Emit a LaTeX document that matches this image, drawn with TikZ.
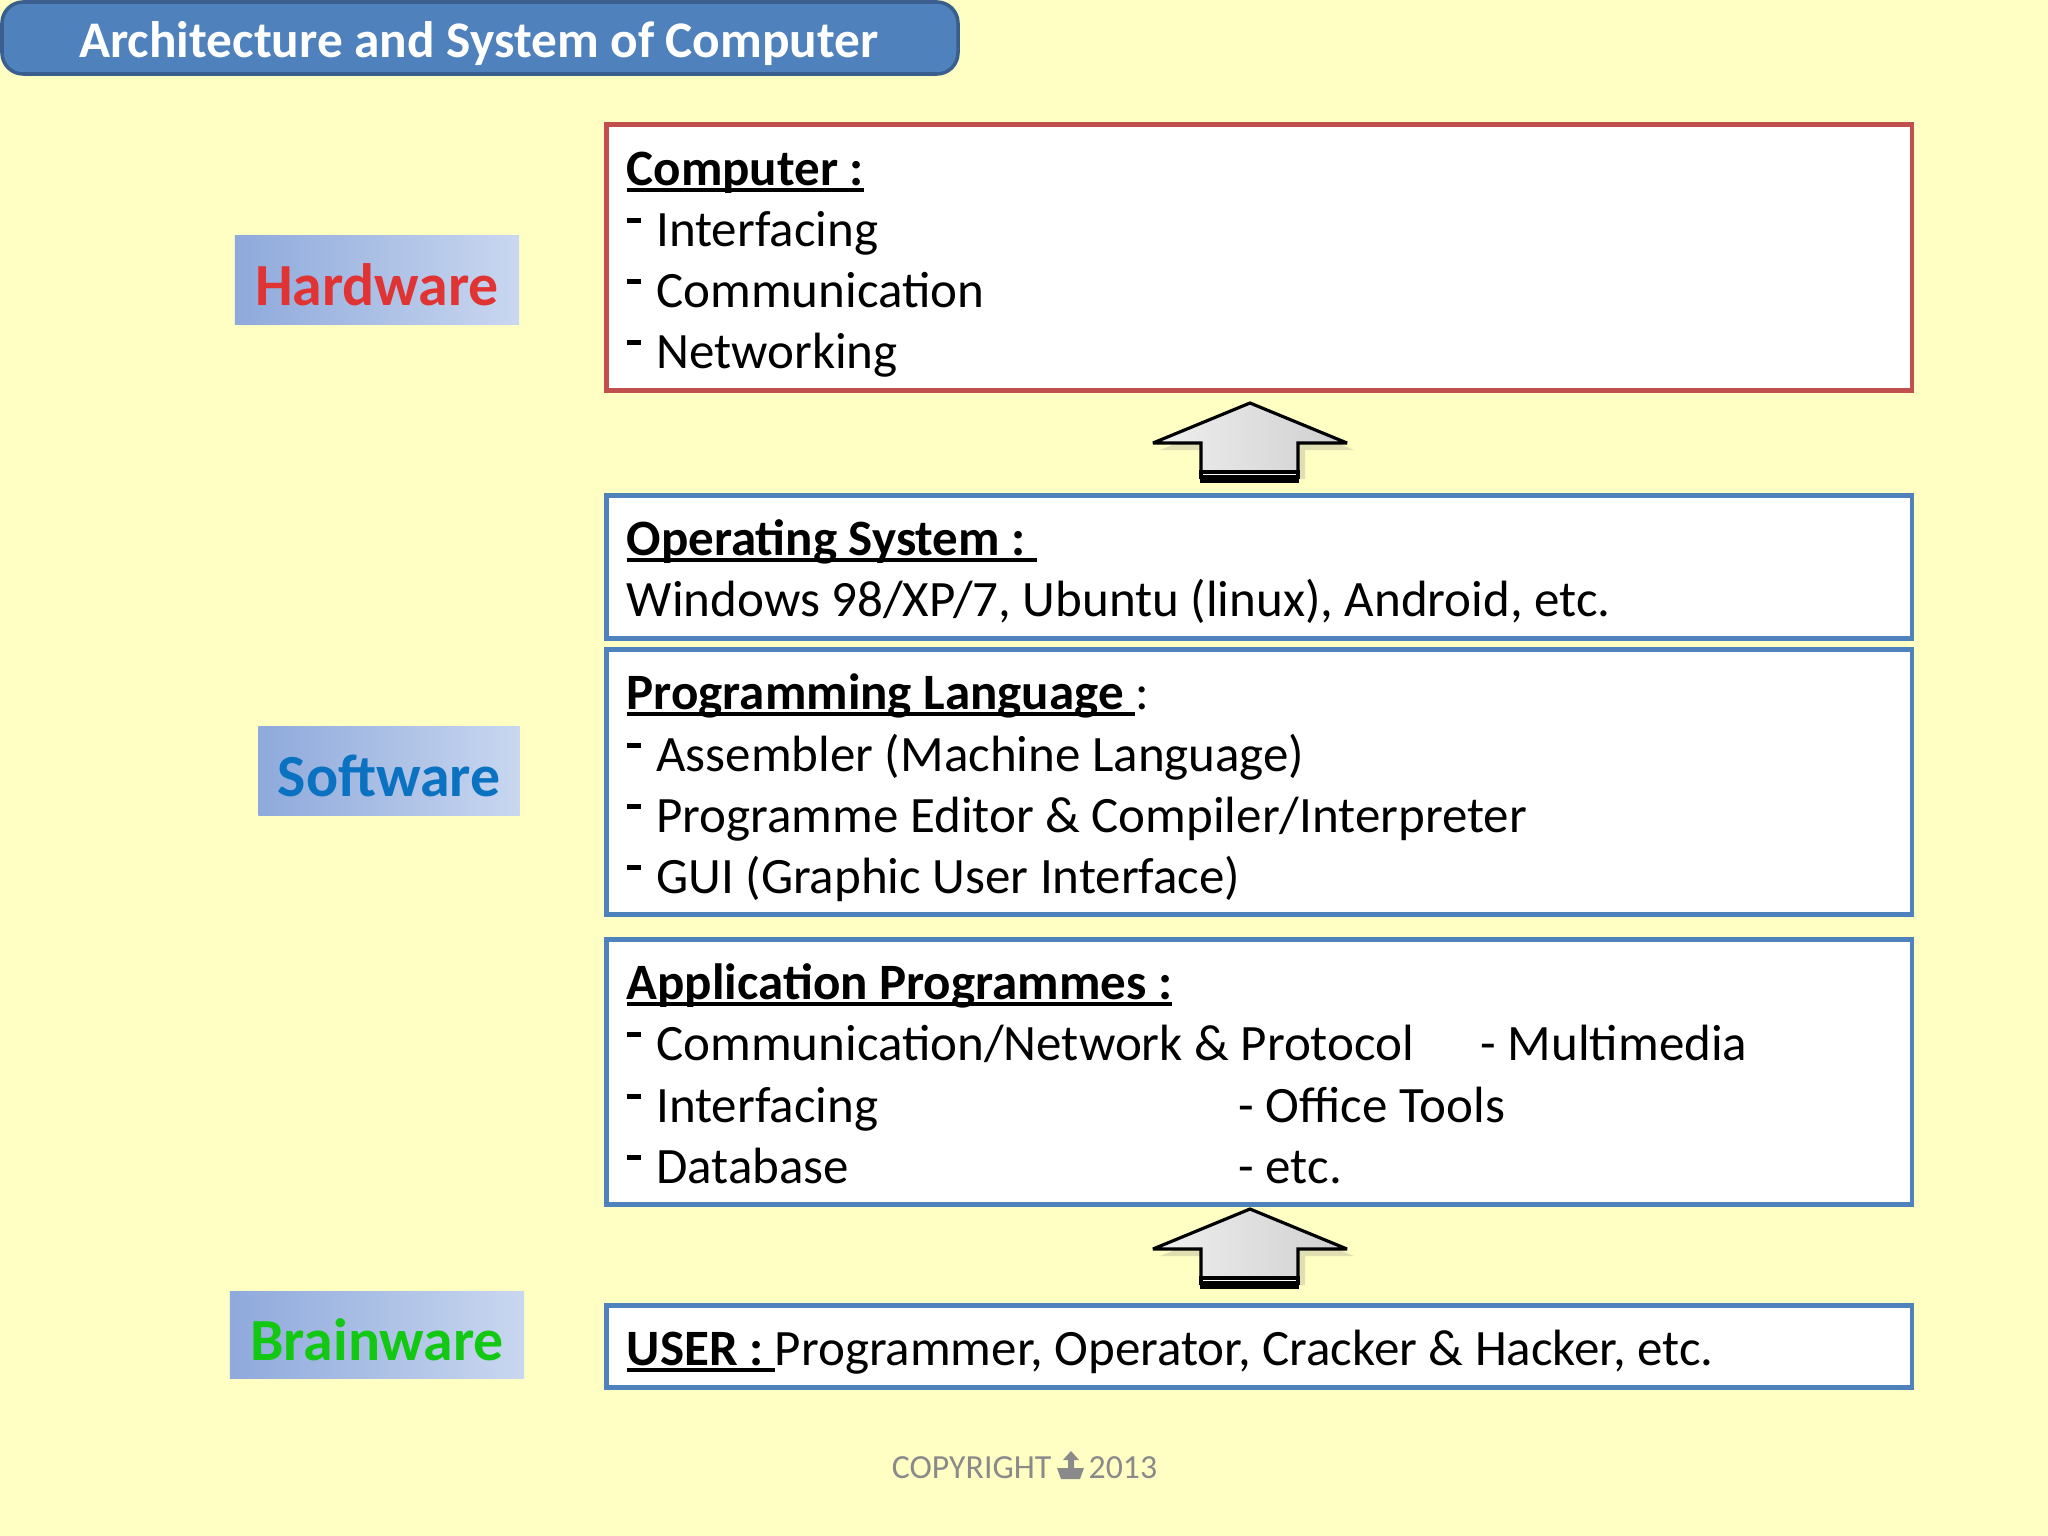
\documentclass[tikz,border=0pt]{standalone}
\usepackage{fontspec}
\setmainfont{Carlito}
\usepackage{xcolor}
\usetikzlibrary{positioning,shadows,calc}

\definecolor{bgyellow}{HTML}{FFFFC4}
\definecolor{titleblue}{HTML}{4F81BD}
\definecolor{titleedge}{HTML}{3A5F8F}
\definecolor{hwred}{HTML}{C0504D}
\definecolor{swblue}{HTML}{4F81BD}
\definecolor{labred}{HTML}{E03434}
\definecolor{labblue}{HTML}{0B72C2}
\definecolor{labgreen}{HTML}{12C812}
\definecolor{lableft}{HTML}{8EA9DB}
\definecolor{labright}{HTML}{C9D7F0}
\definecolor{copygray}{HTML}{8A8A8A}

% raised dash used in front of the list items
\newcommand{\itemdash}{\rule[0.45em]{0.28em}{0.09em}\hspace{0.3em}}
% underline sitting close to the baseline
\newcommand{\lowul}[1]{\setbox0\hbox{#1}\rlap{\rule[-0.13em]{\wd0}{0.065em}}\box0}

\tikzset{
  layerbox/.style={draw, fill=white, line width=1.3pt, anchor=north west},
  sidelabel/.style={left color=lableft, right color=labright, inner sep=0pt,
    text height=0.5cm, text depth=0pt, font=\fontsize{17}{20}\selectfont\bfseries},
  itemline/.style={anchor=base west, inner sep=0pt, font=\fontsize{14.5}{17}\selectfont},
  headline/.style={itemline, font=\fontsize{14.5}{17}\selectfont\bfseries},
  liftarrow/.style={draw=black, line width=0.9pt, miter limit=3, left color=gray!12, right color=gray!38,
    drop shadow={opacity=0.25, shadow xshift=2pt, shadow yshift=-2pt}},
}

\begin{document}
\begin{tikzpicture}[x=0.01cm, y=-0.01cm]
    % Page
    \fill[bgyellow] (0,0) rectangle (2048,1536);

    % Title bar
    \draw[fill=titleblue, draw=titleedge, line width=1pt, rounded corners=6pt] (2,2) rectangle (958,74);
    \node[text=white, font=\fontsize{14.6}{17}\selectfont\bfseries] (title) at (479,44) {Architecture and System of Computer};

    % Side labels
    \node[sidelabel, minimum width=2.84cm, minimum height=0.88cm, text=labred] (hardware) at (377,280) {Hardware};
    \node[sidelabel, minimum width=2.61cm, minimum height=0.88cm, text=labblue] (software) at (389,771) {Software};
    \node[sidelabel, minimum width=2.94cm, minimum height=0.87cm, text=labgreen] (brainware) at (377,1335) {Brainware};

    % Layer boxes
    \node[layerbox, draw=hwred, minimum width=13.05cm, minimum height=2.66cm] (computer) at (604,122) {};
    \node[layerbox, draw=swblue, minimum width=13.05cm, minimum height=1.43cm] (os) at (604,493) {};
    \node[layerbox, draw=swblue, minimum width=13.05cm, minimum height=2.65cm] (proglang) at (604,647) {};
    \node[layerbox, draw=swblue, minimum width=13.05cm, minimum height=2.65cm] (apps) at (604,937) {};
    \node[layerbox, draw=swblue, minimum width=13.05cm, minimum height=0.82cm] (user) at (604,1303) {};

    % Computer
    \node[headline] (comphead) at (626,185) {\lowul{Computer :}};
    \node[itemline] (comp1) at (626,246) {\itemdash Interfacing};
    \node[itemline] (comp2) at (626,307) {\itemdash Communication};
    \node[itemline] (comp3) at (626,368) {\itemdash Networking};

    % Operating system
    \node[headline] (oshead) at (626,555) {\lowul{Operating System :\ }};
    \node[itemline] (os1) at (626,616) {Windows 98/XP/7, Ubuntu (linux), Android, etc.};

    % Programming language
    \node[headline] (plhead) at (626,709) {\lowul{Programming Language\ }\mdseries:};
    \node[itemline] (pl1) at (626,771) {\itemdash Assembler (Machine Language)};
    \node[itemline] (pl2) at (626,832) {\itemdash Programme Editor \& Compiler/Interpreter};
    \node[itemline] (pl3) at (626,893) {\itemdash GUI (Graphic User Interface)};

    % Application programmes
    \node[headline] (apphead) at (626,999) {\lowul{Application Programmes :}};
    \node[itemline] (app1) at (626,1060) {\itemdash Communication/Network \& Protocol};
    \node[itemline] (app2) at (626,1122) {\itemdash Interfacing};
    \node[itemline] (app3) at (626,1183) {\itemdash Database};
    \node[itemline] (app4) at (1480,1060) {- Multimedia};
    \node[itemline] (app5) at (1238,1122) {- Office Tools};
    \node[itemline] (app6) at (1238,1183) {- etc.};

    % User
    \node[itemline] (userline) at (626,1365) {\bfseries\lowul{USER :\ }\mdseries Programmer, Operator, Cracker \& Hacker, etc.};

    % Block arrows between the layers
    \foreach \ty in {403,1209} {
      \draw[liftarrow] (1250,\ty) -- (1347,\ty+40) -- (1298,\ty+40) -- (1298,\ty+69)
        -- (1201,\ty+69) -- (1201,\ty+40) -- (1153,\ty+40) -- cycle;
      \draw[line width=0.9pt, fill=white] (1201,\ty+69) rectangle (1298,\ty+74);
      \fill[black] (1200,\ty+75) rectangle (1299,\ty+80);
    }

    % Footer
    \node[anchor=base east, inner sep=0pt, text=copygray, font=\fontsize{9.6}{12}\selectfont] (copyword) at (1052,1478) {COPYRIGHT};
    \node[anchor=base west, inner sep=0pt, text=copygray, font=\fontsize{9.6}{12}\selectfont] (copyyear) at (1088,1478) {2013};
    \fill[copygray] (1057,1468) -- (1084,1468) -- (1080,1479) -- (1061,1479) -- cycle;
    \fill[copygray] (1071,1451) -- (1079,1460) -- (1074,1460) -- (1074,1469) -- (1068,1469) -- (1068,1460) -- (1063,1460) -- cycle;
\end{tikzpicture}
\end{document}
